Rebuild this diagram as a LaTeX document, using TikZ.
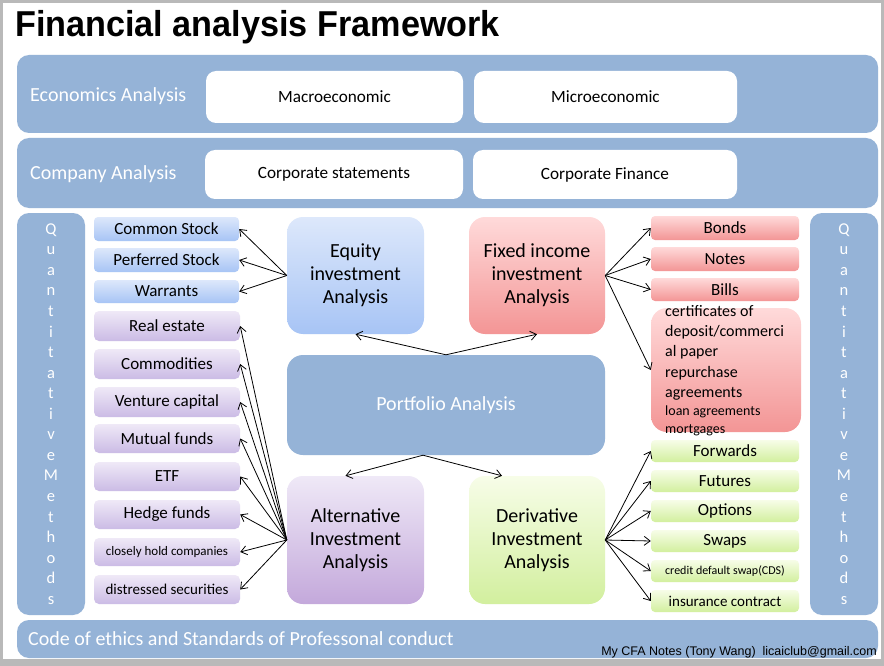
\documentclass[tikz,border=0pt]{standalone}
\usepackage{fontspec}
\setmainfont{Carlito}
\newfontfamily\arialf{Liberation Sans}
\usetikzlibrary{arrows.meta}
\definecolor{band}{HTML}{95B3D7}
\definecolor{bluetop}{HTML}{DDE8FB}
\definecolor{bluebot}{HTML}{A7C4F5}
\definecolor{purtop}{HTML}{EFE9F7}
\definecolor{purbot}{HTML}{CBBBE5}
\definecolor{redtop}{HTML}{FFDADA}
\definecolor{redbot}{HTML}{F39595}
\definecolor{grntop}{HTML}{F7FDE8}
\definecolor{grnbot}{HTML}{D2EF9E}
\newcommand\BX[7]{\node[#2, minimum width={(#5-#3)*1pt}, minimum height={(#6-#4)*1pt}] (#1) at ({(#3+#5)/2},{(#4+#6)/2}) {#7};}
\tikzset{
  box/.style={inner sep=0pt, align=center, text=black},
  bandbox/.style={box, fill=band, rounded corners=12pt, text=white},
  whitebox/.style={box, fill=white, rounded corners=10pt, font=\fontsize{17.2}{20}\selectfont},
  blueitem/.style={box, top color=bluetop, bottom color=bluebot, rounded corners=4pt, font=\fontsize{17}{20}\selectfont},
  puritem/.style={box, top color=purtop, bottom color=purbot, rounded corners=5pt, font=\fontsize{17}{20}\selectfont},
  reditem/.style={box, top color=redtop, bottom color=redbot, rounded corners=4pt, font=\fontsize{17}{20}\selectfont},
  grnitem/.style={box, top color=grntop, bottom color=grnbot, rounded corners=4pt, font=\fontsize{17}{20}\selectfont},
  bigbox/.style={box, rounded corners=16pt, font=\fontsize{20}{23}\selectfont},
  bandlabel/.style={inner sep=0pt, text=white, font=\fontsize{20}{24}\selectfont},
  arr/.style={-{Straight Barb[length=6pt,width=9pt]}, line width=0.8pt},
}
\begin{document}
\begin{tikzpicture}[x=1pt,y=-1pt]
\useasboundingbox (0,0) rectangle (884,666);
\fill[gray!55] (0,0) rectangle (884,666);
\fill[white] (3,3) rectangle (881,659);

\node[anchor=base west, inner sep=0pt, font=\arialf\bfseries\fontsize{36}{40}\selectfont] (title) at (15,37) {\scalebox{0.95}[1]{Financial analysis Framework}};

% bands
\BX{eco}{bandbox}{17}{55}{878}{133}{}
\BX{comp}{bandbox}{17}{138}{878}{208}{}
\BX{lq}{bandbox, font=\fontsize{16.5}{20.55}\selectfont}{17}{213}{85}{615}{Q\\u\\a\\n\\t\\i\\t\\a\\t\\i\\v\\e\\M\\e\\t\\h\\o\\d\\s}
\BX{rq}{bandbox, font=\fontsize{16.5}{20.55}\selectfont}{810}{213}{878}{615}{Q\\u\\a\\n\\t\\i\\t\\a\\t\\i\\v\\e\\M\\e\\t\\h\\o\\d\\s}
\BX{code}{bandbox}{17}{620}{878}{658}{}

\node[bandlabel, anchor=west] (ecolbl) at (30,96) {Economics Analysis};
\node[bandlabel, anchor=west] (complbl) at (30,174) {Company Analysis};
\node[bandlabel, anchor=west] (codelbl) at (28,639) {Code of ethics and Standards of Professonal conduct};
\node[anchor=base east, inner sep=0pt, font=\arialf\fontsize{12.5}{14}\selectfont] (footer) at (877,655) {My CFA Notes (Tony Wang)\ \ licaiclub@gmail.com};

% white boxes
\BX{mac}{whitebox}{206}{71}{463}{123}{Macroeconomic}
\BX{mic}{whitebox}{474}{71}{737}{123}{Microeconomic}
\BX{cst}{whitebox}{205}{150}{463}{199}{Corporate statements}
\BX{cfi}{whitebox}{473}{150}{737}{199}{Corporate Finance}

% left items
\BX{cs}{blueitem}{94}{217}{239}{241}{Common Stock}
\BX{ps}{blueitem}{94}{248}{239}{272}{Perferred Stock}
\BX{wa}{blueitem}{94}{280}{239}{303}{Warrants}
\BX{re}{puritem}{94}{311}{240}{341}{Real estate}
\BX{co}{puritem}{94}{349}{240}{379}{Commodities}
\BX{vc}{puritem}{94}{387}{240}{417}{Venture capital}
\BX{mf}{puritem}{94}{424}{240}{453}{Mutual funds}
\BX{etf}{puritem}{94}{462}{240}{491}{ETF}
\BX{hf}{puritem}{94}{500}{240}{529}{Hedge funds}
\BX{ch}{puritem, font=\fontsize{13}{15}\selectfont}{94}{538}{240}{566}{closely hold companies}
\BX{ds}{puritem, font=\fontsize{15}{17}\selectfont}{94}{575}{240}{604}{distressed securities}

% centre boxes
\BX{eq}{bigbox, top color=bluetop, bottom color=bluebot}{287}{217}{424}{334}{Equity\\investment\\Analysis}
\BX{fi}{bigbox, top color=redtop, bottom color=redbot}{469}{217}{605}{334}{Fixed income\\investment\\Analysis}
\BX{pa}{bigbox, fill=band, text=white}{287}{355}{605}{455}{Portfolio Analysis}
\BX{alt}{bigbox, top color=purtop, bottom color=purbot!90!violet}{287}{476}{424}{604}{Alternative\\Investment\\Analysis}
\BX{der}{bigbox, top color=grntop, bottom color=grnbot}{469}{476}{605}{604}{Derivative\\Investment\\Analysis}

% right items
\BX{bo}{reditem}{651}{216}{799}{240}{Bonds}
\BX{no}{reditem}{651}{247}{799}{271}{Notes}
\BX{bi}{reditem}{651}{278}{799}{301}{Bills}
\BX{cd}{reditem, rounded corners=16pt}{651}{308}{801}{432}{}
\node[anchor=north west, inner sep=0pt, align=left, font=\fontsize{16}{20.3}\selectfont] (cdtext) at (665,305)
  {certificates of\\deposit/commerci\\al paper\\repurchase\\agreements\\[-2.5pt]{\fontsize{14}{18}\selectfont loan agreements}\\[-2.5pt]{\fontsize{14}{18}\selectfont mortgages}};
\BX{fw}{grnitem}{651}{440}{799}{462}{Forwards}
\BX{fu}{grnitem}{651}{470}{799}{492}{Futures}
\BX{op}{grnitem}{651}{500}{799}{522}{Options}
\BX{sw}{grnitem}{651}{530}{799}{552}{Swaps}
\BX{cds}{grnitem, font=\fontsize{12}{14}\selectfont}{651}{560}{799}{582}{credit default swap(CDS)}
\BX{ins}{grnitem, font=\fontsize{15}{17}\selectfont}{651}{590}{799}{612}{insurance contract}

% arrows
\foreach \t in {cs,ps,wa} \draw[arr] (eq.west) -- (\t.east);
\foreach \t in {re,co,vc,mf,etf,hf,ch,ds} \draw[arr] (alt.west) -- (\t.east);
\foreach \t in {bo,no,bi,cd} \draw[arr] (fi.east) -- (\t.west);
\foreach \t in {fw,fu,op,sw,cds,ins} \draw[arr] (der.east) -- (\t.west);
\draw[arr] (pa.north) -- (eq.south);
\draw[arr] (pa.north) -- (fi.south);
\coordinate (pab) at ([xshift=-23pt]pa.south);
\draw[arr] (pab) -- ([xshift=-10pt]alt.north);
\draw[arr] (pab) -- ([xshift=-35pt]der.north);
\end{tikzpicture}
\end{document}
